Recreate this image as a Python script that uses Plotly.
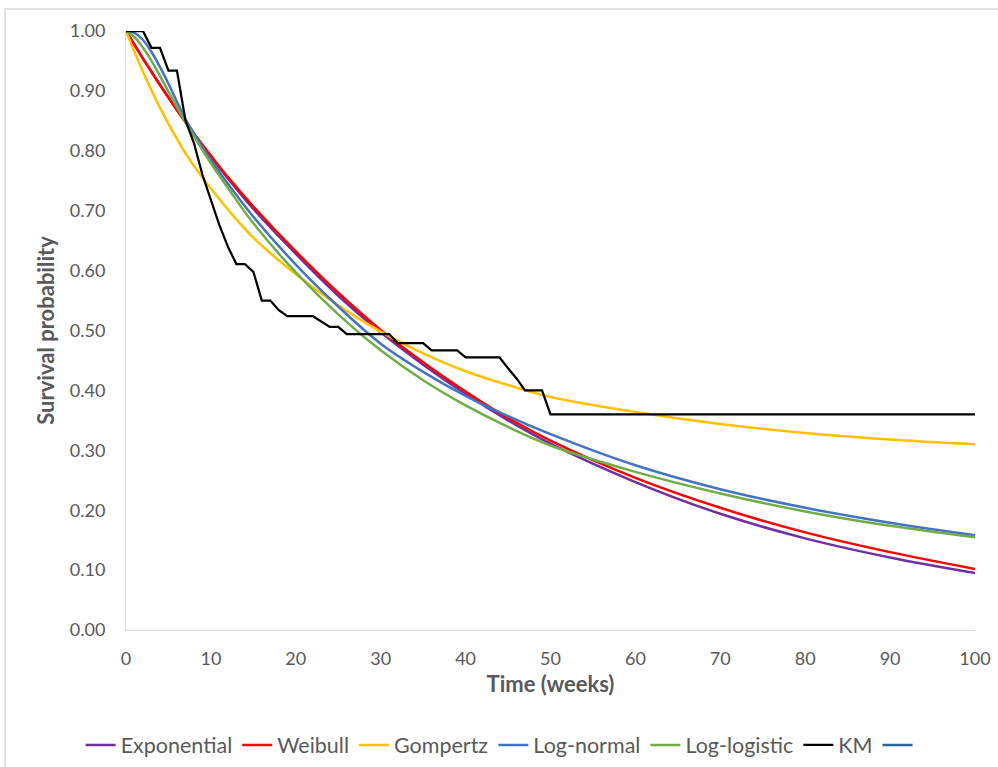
import plotly.graph_objects as go

# Parametric model time grid (weeks)
t_model = [0, 1, 2, 3, 4, 5, 6, 7, 8, 9, 10, 12, 15, 20, 25, 30, 35, 40, 45, 50, 60, 70, 80, 90, 100]

exponential = [1.0, 0.977, 0.954, 0.932, 0.910, 0.889, 0.868, 0.848, 0.828, 0.809, 0.790, 0.754, 0.703,
               0.628, 0.558, 0.497, 0.443, 0.394, 0.350, 0.311, 0.247, 0.194, 0.153, 0.121, 0.095]
weibull = [1.0, 0.977, 0.954, 0.932, 0.910, 0.889, 0.868, 0.848, 0.829, 0.810, 0.792, 0.756, 0.707,
           0.632, 0.563, 0.501, 0.447, 0.398, 0.354, 0.316, 0.254, 0.204, 0.163, 0.130, 0.102]
gompertz = [1.0, 0.965, 0.932, 0.901, 0.872, 0.845, 0.820, 0.796, 0.775, 0.755, 0.737, 0.702, 0.655,
            0.594, 0.542, 0.498, 0.462, 0.432, 0.409, 0.389, 0.364, 0.344, 0.329, 0.318, 0.310]
lognormal = [1.0, 0.997, 0.985, 0.965, 0.940, 0.912, 0.882, 0.853, 0.829, 0.806, 0.785, 0.745, 0.690,
             0.610, 0.540, 0.478, 0.431, 0.391, 0.357, 0.327, 0.275, 0.235, 0.204, 0.179, 0.158]
loglogistic = [1.0, 0.990, 0.972, 0.950, 0.925, 0.899, 0.873, 0.848, 0.824, 0.801, 0.779, 0.738, 0.679,
               0.597, 0.527, 0.467, 0.417, 0.375, 0.339, 0.308, 0.264, 0.228, 0.198, 0.174, 0.155]

# Kaplan-Meier estimate
t_km = list(range(0, 51)) + [100]
km = [1.00, 1.00, 1.00, 0.972, 0.972, 0.934, 0.934, 0.851, 0.813, 0.760,
      0.718, 0.676, 0.640, 0.611, 0.611, 0.598, 0.550, 0.550, 0.534, 0.524,
      0.524, 0.524, 0.524, 0.515, 0.506, 0.506, 0.494, 0.494, 0.494, 0.494,
      0.494, 0.494, 0.479, 0.479, 0.479, 0.479, 0.467, 0.467, 0.467, 0.467,
      0.455, 0.455, 0.455, 0.455, 0.455, 0.437, 0.420, 0.400, 0.400, 0.400,
      0.360, 0.360]

x_ticks = list(range(0, 101, 10))
y_ticks = [i / 10 for i in range(0, 11)]

series = [
    ("Exponential", exponential, "#7030A0"),
    ("Weibull", weibull, "#FF0000"),
    ("Gompertz", gompertz, "#FFC000"),
    ("Log-normal", lognormal, "#4472C4"),
    ("Log-logistic", loglogistic, "#70AD47"),
]

fig = go.Figure()
for name, vals, col in series:
    fig.add_trace(go.Scatter(x=t_model, y=vals, name=name, mode="lines",
                             line=dict(color=col, width=2.5, shape="spline", smoothing=1.0)))
fig.add_trace(go.Scatter(x=t_km, y=km, name="KM", mode="lines",
                         line=dict(color="#000000", width=2.25)))
fig.add_trace(go.Scatter(x=[None], y=[None], name=" ", mode="lines",
                         line=dict(color="#2F6396", width=2.5)))

font_family = "Lato, 'Open Sans', Arial, sans-serif"
grey = "#595959"

fig.update_layout(
    width=998, height=767,
    margin=dict(l=126, r=23, t=31, b=137, autoexpand=False),
    paper_bgcolor="white", plot_bgcolor="white",
    font=dict(family=font_family, size=18, color=grey),
    showlegend=True,
    legend=dict(orientation="h", x=0.446, xanchor="center", y=-0.192, yanchor="middle",
                font=dict(size=21.5, color=grey), tracegroupgap=0),
    xaxis=dict(range=[0, 100], tickvals=x_ticks, ticktext=[str(v) for v in x_ticks],
               showgrid=False, zeroline=False, showline=True, linecolor="#D9D9D9", linewidth=1,
               ticks="", ticklen=0, ticklabelstandoff=12, tickfont=dict(size=18, color=grey),
               title=dict(text="<b>Time (weeks)</b>", font=dict(size=22, color=grey), standoff=9)),
    yaxis=dict(range=[0, 1], tickvals=y_ticks, tickformat=".2f",
               showgrid=False, zeroline=False, showline=True, linecolor="#D9D9D9", linewidth=1,
               ticks="", ticklen=0, ticklabelstandoff=16, tickfont=dict(size=18, color=grey),
               title=dict(text="<b>Survival probability</b>", font=dict(size=22, color=grey), standoff=9)),
    shapes=[dict(type="rect", xref="paper", yref="paper",
                 x0=(5 - 126) / 849, x1=1.2, y0=-0.5, y1=(630 - 9) / 599,
                 line=dict(color="#D9D9D9", width=1.5), layer="below")],
)

fig.write_html("out.html")
